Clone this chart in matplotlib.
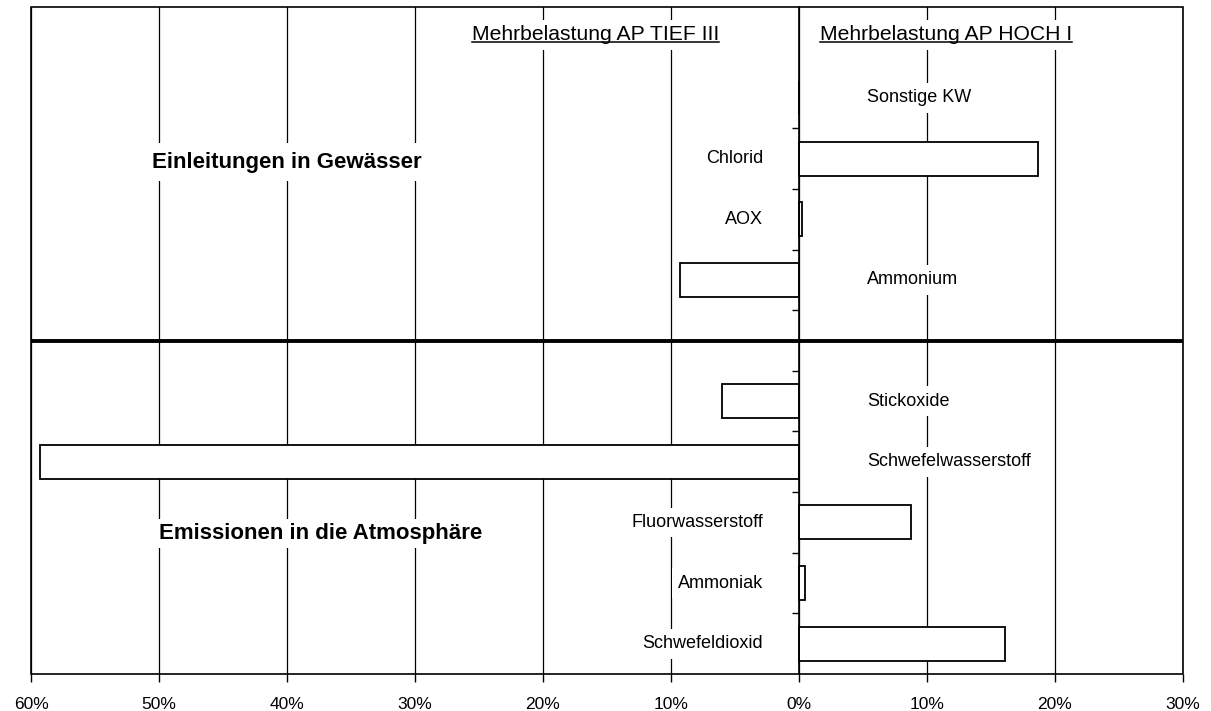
import matplotlib
matplotlib.use("Agg")
import matplotlib.pyplot as plt
from matplotlib.ticker import FuncFormatter
from matplotlib.patches import Rectangle
from matplotlib.lines import Line2D

plt.rcParams['font.family'] = ['Liberation Sans', 'DejaVu Sans']

# Emissions to the atmosphere (bottom block, listed bottom to top)
air_categories = ["Schwefeldioxid", "Ammoniak", "Fluorwasserstoff",
                  "Schwefelwasserstoff", "Stickoxide"]
air_values = [16.1, 0.5, 8.75, -59.3, -6.0]

# Discharges into water bodies (upper block, listed bottom to top)
water_categories = ["Ammonium", "AOX", "Chlorid", "Sonstige KW"]
water_values = [-9.3, 0.2, 18.7, 0.0]

x_ticks = [-60, -50, -40, -30, -20, -10, 0, 10, 20, 30]
group_titles = ["Einleitungen in Gewässer", "Emissionen in die Atmosphäre"]
side_titles = ["Mehrbelastung AP TIEF III", "Mehrbelastung AP HOCH I"]

# slot layout: air block, one empty separator slot, water block, one title slot
air_pos = list(range(len(air_categories)))
sep_pos = len(air_categories)
water_pos = [sep_pos + 1 + i for i in range(len(water_categories))]
n_slots = water_pos[-1] + 2

fig = plt.figure(figsize=(12.11, 7.11), dpi=100)
ax = fig.add_axes([31 / 1211, 37 / 711, 1152 / 1211, 667 / 711])

ax.set_xlim(x_ticks[0], x_ticks[-1])
ax.set_ylim(-0.5, n_slots - 0.5)

ax.set_axisbelow(True)
ax.grid(axis='x', color='black', linewidth=0.9)
ax.grid(axis='y', visible=False)

positions = air_pos + water_pos
values = air_values + water_values
labels = air_categories + water_categories

ax.barh(positions, values, height=0.56, color='white', edgecolor='black',
        linewidth=1.3, zorder=3)

label_box = dict(facecolor='white', edgecolor='none', pad=4.5)
for p, v, name in zip(positions, values, labels):
    if v > 0:
        ax.text(-2.8, p, name, ha='right', va='center', fontsize=13,
                bbox=label_box, zorder=4)
    else:
        ax.text(5.3, p, name, ha='left', va='center', fontsize=13,
                bbox=label_box, zorder=4)

# thick separator between the two blocks
ax.axhline(sep_pos, color='black', linewidth=2.8, zorder=5,
           solid_capstyle='projecting')

# block headings
ax.text(-40.0, 7.94, group_titles[0], ha='center', va='center',
        fontsize=16, fontweight='bold',
        bbox=dict(facecolor='white', edgecolor='none', pad=6), zorder=4)
ax.text(-37.4, 1.82, group_titles[1], ha='center', va='center',
        fontsize=16, fontweight='bold',
        bbox=dict(facecolor='white', edgecolor='none', pad=3), zorder=4)

# underlined column headings
title_top = n_slots - 1 - 0.045
heads = []
for xc, t in zip([-15.9, 11.5], side_titles):
    heads.append(ax.text(xc, title_top, t, ha='center', va='baseline',
                         fontsize=15.2,
                         bbox=dict(facecolor='white', edgecolor='none', pad=4),
                         zorder=4))

# zero axis with category boundary ticks
ax.spines['left'].set_position(('data', 0))
ax.spines['right'].set_visible(False)
ax.spines['top'].set_visible(False)
ax.spines['bottom'].set_visible(False)
ax.spines['left'].set_linewidth(1.2)
ax.spines['left'].set_zorder(6)
ax.set_yticks([k + 0.5 for k in range(n_slots - 2)])
ax.tick_params(axis='y', direction='out', length=5, width=1,
               labelleft=False)

ax.set_xticks(x_ticks)
ax.xaxis.set_major_formatter(FuncFormatter(lambda v, p: f"{abs(v):.0f}%"))
ax.tick_params(axis='x', direction='out', length=6, width=1, pad=10.5,
               labelsize=12.5)

# outer frame
ax.add_patch(Rectangle((0, 0), 1, 1, transform=ax.transAxes, fill=False,
                       edgecolor='black', linewidth=1.2, clip_on=False,
                       zorder=6))

fig.canvas.draw()
renderer = fig.canvas.get_renderer()
inv = fig.transFigure.inverted()
for h in heads:
    bb = h.get_window_extent(renderer)
    xd, yd = ax.transData.transform((h.get_position()[0], title_top))
    y_line = yd - 2.0
    (fx0, fy), (fx1, _) = inv.transform([(bb.x0, y_line), (bb.x1, y_line)])
    fig.add_artist(Line2D([fx0, fx1], [fy, fy], color='black',
                          linewidth=1.1, zorder=7))

fig.savefig("out.png", dpi=100)
